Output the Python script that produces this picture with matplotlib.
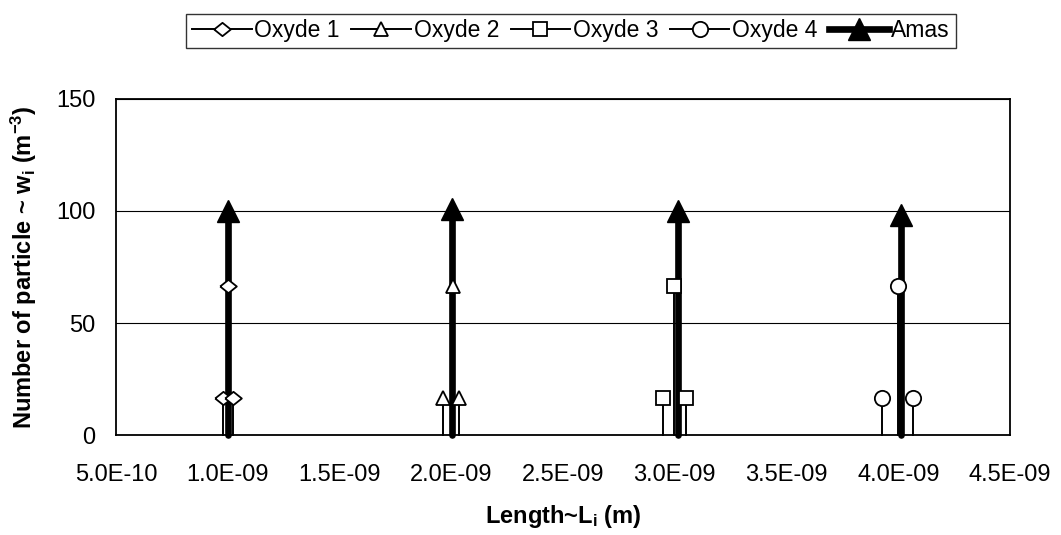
import numpy as np
import matplotlib
matplotlib.use("Agg")
import matplotlib.pyplot as plt
from matplotlib.lines import Line2D

plt.rcParams['font.family'] = ['Liberation Sans', 'DejaVu Sans']
plt.rcParams['mathtext.default'] = 'regular'

# ---- data ----
series_names = ["Oxyde 1", "Oxyde 2", "Oxyde 3", "Oxyde 4", "Amas"]
oxyde1_x = [0.979e-9, 1.000e-9, 1.023e-9]
oxyde2_x = [1.963e-9, 2.006e-9, 2.035e-9]
oxyde3_x = [2.949e-9, 2.997e-9, 3.050e-9]
oxyde4_x = [3.926e-9, 3.997e-9, 4.067e-9]
oxyde_y = [16.7, 66.7, 16.7]
amas_x = [1.0025e-9, 2.005e-9, 3.016e-9, 4.011e-9]
amas_y = [100, 101, 100, 98]
x_ticks = [5.0e-10, 1.0e-9, 1.5e-9, 2.0e-9, 2.5e-9, 3.0e-9, 3.5e-9, 4.0e-9, 4.5e-9]
x_tick_labels = ["5.0E-10", "1.0E-09", "1.5E-09", "2.0E-09", "2.5E-09",
                 "3.0E-09", "3.5E-09", "4.0E-09", "4.5E-09"]
y_ticks = [0, 50, 100, 150]

FS = 17
LFS = 16.5
W, H = 1061, 535
fig = plt.figure(figsize=(W / 100, H / 100), dpi=100)
ax = fig.add_axes([116 / W, 1 - 435 / H, 894 / W, 336 / H])

diamond = [(-1, 0), (0, 0.8), (1, 0), (0, -0.8), (-1, 0)]
marker_specs = [
    dict(marker=diamond, ms=12),
    dict(marker='^', ms=10),
    dict(marker='s', ms=9.5),
    dict(marker='o', ms=11),
]


def spikes(xs, ys):
    px, py, tops = [], [], []
    for i, (x, y) in enumerate(zip(xs, ys)):
        px += [x, x, np.nan]
        py += [0, y, np.nan]
        tops.append(3 * i + 1)
    return px, py, tops


# Amas (thick, drawn beneath)
px, py, tops = spikes(amas_x, amas_y)
ax.plot(px, py, color='black', lw=4.8, solid_capstyle='round', clip_on=False,
        marker='^', ms=15.5, markevery=tops, mfc='black', mec='black', zorder=3)

handles = []
for xs, spec, name in zip([oxyde1_x, oxyde2_x, oxyde3_x, oxyde4_x], marker_specs, series_names[:4]):
    px, py, tops = spikes(xs, oxyde_y)
    ax.plot(px, py, color='black', lw=1.4, markevery=tops, mfc='white', mec='black',
            mew=1.3, zorder=4, clip_on=False, **spec)
    handles.append(Line2D([], [], color='black', lw=1.4, mfc='white', mec='black',
                          mew=1.3, label=name, **spec))
handles.append(Line2D([], [], color='black', lw=4.8, marker='^', ms=15.5,
                      mfc='black', mec='black', label=series_names[4]))

ax.set_xlim(x_ticks[0], x_ticks[-1])
ax.set_ylim(y_ticks[0], y_ticks[-1])
ax.set_xticks(x_ticks)
ax.set_xticklabels(x_tick_labels)
ax.set_yticks(y_ticks)
ax.tick_params(axis='both', length=0, labelsize=FS)
ax.tick_params(axis='x', pad=21)
ax.tick_params(axis='y', pad=15)
for s in ax.spines.values():
    s.set_linewidth(1.3)
    s.set_color('black')
ax.yaxis.grid(True, color='black', lw=0.8)
ax.set_axisbelow(True)

ax.set_xlabel("Length~L$_i$ (m)", fontsize=FS, fontweight='bold', va='center')
ax.xaxis.set_label_coords(0.5, (435 - 516) / 336)
ax.set_ylabel("Number of particle ~ w$_i$ (m$^{-3}$)", fontsize=FS, fontweight='bold')
ax.yaxis.set_label_coords((39 - 116) / 894, 0.5)

leg = fig.legend(handles=handles, loc='center', bbox_to_anchor=(571 / W, 1 - 31 / H),
                 ncol=5, frameon=True, fancybox=False, edgecolor='black', fontsize=LFS,
                 handlelength=2.6, handletextpad=0.12, columnspacing=0.5,
                 borderpad=0.25, numpoints=1)
leg.get_frame().set_linewidth(1.0)

fig.savefig("out.png", dpi=100)
